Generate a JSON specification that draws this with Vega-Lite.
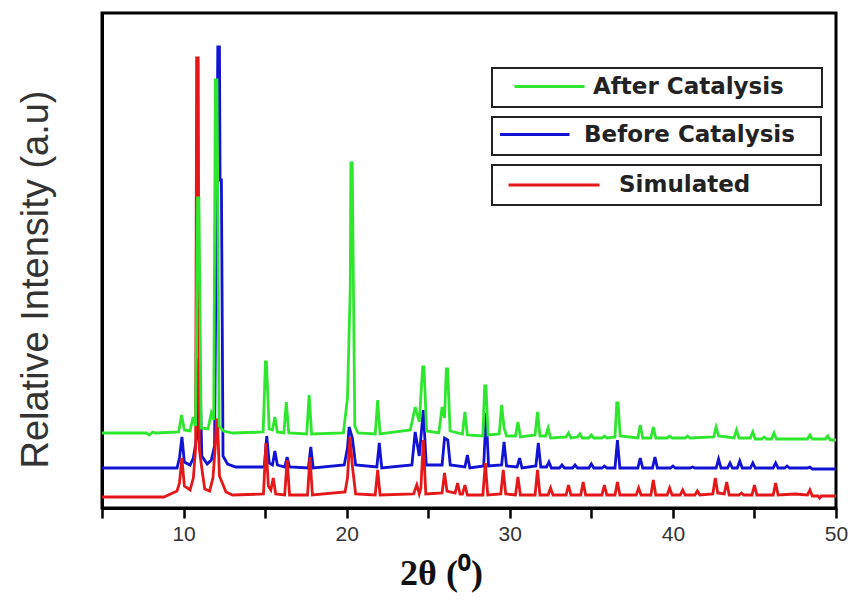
{
  "$schema": "https://vega.github.io/schema/vega-lite/v6.json",
  "width": 734,
  "height": 495,
  "autosize": {"type": "none"},
  "padding": {"left": 102, "top": 13, "right": 18, "bottom": 97},
  "background": "white",
  "config": {
    "view": {"stroke": "#000000", "strokeWidth": 3},
    "font": "Liberation Sans"
  },
  "datasets": {
    "after": [
      {"angle": 5.0, "intensity": 75}, {"angle": 7.7, "intensity": 75}, {"angle": 7.9, "intensity": 73}, {"angle": 8.1, "intensity": 76},
      {"angle": 8.3, "intensity": 75}, {"angle": 9.7, "intensity": 76}, {"angle": 9.88, "intensity": 93}, {"angle": 10.05, "intensity": 78},
      {"angle": 10.4, "intensity": 77}, {"angle": 10.58, "intensity": 91}, {"angle": 10.74, "intensity": 82}, {"angle": 10.86, "intensity": 310},
      {"angle": 10.94, "intensity": 310}, {"angle": 11.08, "intensity": 80}, {"angle": 11.5, "intensity": 79}, {"angle": 11.7, "intensity": 95},
      {"angle": 11.85, "intensity": 88}, {"angle": 11.95, "intensity": 428}, {"angle": 12.05, "intensity": 428}, {"angle": 12.18, "intensity": 82},
      {"angle": 12.45, "intensity": 77}, {"angle": 13.0, "intensity": 75}, {"angle": 14.88, "intensity": 76}, {"angle": 15.02, "intensity": 146},
      {"angle": 15.08, "intensity": 146}, {"angle": 15.25, "intensity": 79}, {"angle": 15.45, "intensity": 78}, {"angle": 15.6, "intensity": 91},
      {"angle": 15.75, "intensity": 76}, {"angle": 16.15, "intensity": 75}, {"angle": 16.3, "intensity": 106}, {"angle": 16.45, "intensity": 75},
      {"angle": 17.55, "intensity": 74}, {"angle": 17.7, "intensity": 113}, {"angle": 17.85, "intensity": 74}, {"angle": 19.8, "intensity": 75},
      {"angle": 20.05, "intensity": 110}, {"angle": 20.22, "intensity": 220}, {"angle": 20.26, "intensity": 345}, {"angle": 20.34, "intensity": 345},
      {"angle": 20.5, "intensity": 82}, {"angle": 20.7, "intensity": 75}, {"angle": 21.75, "intensity": 74}, {"angle": 21.9, "intensity": 108},
      {"angle": 22.05, "intensity": 74}, {"angle": 23.9, "intensity": 78}, {"angle": 24.2, "intensity": 101}, {"angle": 24.45, "intensity": 86},
      {"angle": 24.66, "intensity": 141}, {"angle": 24.74, "intensity": 141}, {"angle": 24.9, "intensity": 77}, {"angle": 25.65, "intensity": 75},
      {"angle": 25.85, "intensity": 101}, {"angle": 26.0, "intensity": 90}, {"angle": 26.11, "intensity": 139}, {"angle": 26.19, "intensity": 139},
      {"angle": 26.34, "intensity": 77}, {"angle": 27.1, "intensity": 74}, {"angle": 27.25, "intensity": 96}, {"angle": 27.4, "intensity": 73},
      {"angle": 28.35, "intensity": 72}, {"angle": 28.46, "intensity": 122}, {"angle": 28.54, "intensity": 122}, {"angle": 28.67, "intensity": 73},
      {"angle": 29.35, "intensity": 74}, {"angle": 29.5, "intensity": 103}, {"angle": 29.65, "intensity": 80}, {"angle": 29.8, "intensity": 72},
      {"angle": 30.35, "intensity": 72}, {"angle": 30.5, "intensity": 86}, {"angle": 30.65, "intensity": 71}, {"angle": 31.55, "intensity": 73},
      {"angle": 31.7, "intensity": 96}, {"angle": 31.85, "intensity": 72}, {"angle": 32.2, "intensity": 72}, {"angle": 32.35, "intensity": 80},
      {"angle": 32.5, "intensity": 70}, {"angle": 33.45, "intensity": 71}, {"angle": 33.6, "intensity": 75}, {"angle": 33.75, "intensity": 70},
      {"angle": 34.15, "intensity": 71}, {"angle": 34.3, "intensity": 74}, {"angle": 34.45, "intensity": 70}, {"angle": 34.85, "intensity": 70},
      {"angle": 35.0, "intensity": 73}, {"angle": 35.15, "intensity": 70}, {"angle": 35.65, "intensity": 70}, {"angle": 35.8, "intensity": 72},
      {"angle": 35.95, "intensity": 70}, {"angle": 36.45, "intensity": 71}, {"angle": 36.56, "intensity": 105}, {"angle": 36.64, "intensity": 105},
      {"angle": 36.77, "intensity": 72}, {"angle": 37.85, "intensity": 70}, {"angle": 38.0, "intensity": 83}, {"angle": 38.15, "intensity": 70},
      {"angle": 38.65, "intensity": 70}, {"angle": 38.8, "intensity": 81}, {"angle": 38.95, "intensity": 70}, {"angle": 39.65, "intensity": 70},
      {"angle": 39.8, "intensity": 72}, {"angle": 39.95, "intensity": 70}, {"angle": 40.75, "intensity": 70}, {"angle": 40.9, "intensity": 72},
      {"angle": 41.05, "intensity": 70}, {"angle": 42.5, "intensity": 71}, {"angle": 42.65, "intensity": 81}, {"angle": 42.8, "intensity": 72},
      {"angle": 43.75, "intensity": 70}, {"angle": 43.9, "intensity": 78}, {"angle": 44.05, "intensity": 70}, {"angle": 44.75, "intensity": 70},
      {"angle": 44.9, "intensity": 76}, {"angle": 45.05, "intensity": 69}, {"angle": 45.45, "intensity": 69}, {"angle": 45.6, "intensity": 71},
      {"angle": 45.75, "intensity": 69}, {"angle": 46.05, "intensity": 69}, {"angle": 46.2, "intensity": 75}, {"angle": 46.35, "intensity": 69},
      {"angle": 48.25, "intensity": 69}, {"angle": 48.4, "intensity": 73}, {"angle": 48.55, "intensity": 69}, {"angle": 49.35, "intensity": 69},
      {"angle": 49.5, "intensity": 72}, {"angle": 49.65, "intensity": 68}, {"angle": 50.0, "intensity": 68}
    ],
    "before": [
      {"angle": 5.0, "intensity": 40}, {"angle": 9.6, "intensity": 40}, {"angle": 9.75, "intensity": 50}, {"angle": 9.9, "intensity": 71},
      {"angle": 10.05, "intensity": 46}, {"angle": 10.4, "intensity": 43}, {"angle": 10.6, "intensity": 50}, {"angle": 10.8, "intensity": 70},
      {"angle": 10.92, "intensity": 148}, {"angle": 10.98, "intensity": 148}, {"angle": 11.12, "intensity": 52}, {"angle": 11.45, "intensity": 44},
      {"angle": 11.7, "intensity": 48}, {"angle": 11.9, "intensity": 62}, {"angle": 12.1, "intensity": 461}, {"angle": 12.2, "intensity": 461},
      {"angle": 12.24, "intensity": 328}, {"angle": 12.32, "intensity": 328}, {"angle": 12.42, "intensity": 52}, {"angle": 12.7, "intensity": 44},
      {"angle": 13.2, "intensity": 41}, {"angle": 14.95, "intensity": 41}, {"angle": 15.1, "intensity": 72}, {"angle": 15.25, "intensity": 45},
      {"angle": 15.45, "intensity": 43}, {"angle": 15.6, "intensity": 57}, {"angle": 15.75, "intensity": 43}, {"angle": 16.2, "intensity": 41},
      {"angle": 16.35, "intensity": 51}, {"angle": 16.5, "intensity": 41}, {"angle": 17.65, "intensity": 40}, {"angle": 17.8, "intensity": 61},
      {"angle": 17.95, "intensity": 40}, {"angle": 19.85, "intensity": 43}, {"angle": 20.05, "intensity": 60}, {"angle": 20.15, "intensity": 81},
      {"angle": 20.35, "intensity": 70}, {"angle": 20.55, "intensity": 43}, {"angle": 21.85, "intensity": 41}, {"angle": 22.0, "intensity": 65},
      {"angle": 22.15, "intensity": 40}, {"angle": 24.0, "intensity": 43}, {"angle": 24.2, "intensity": 76}, {"angle": 24.45, "intensity": 52},
      {"angle": 24.7, "intensity": 98}, {"angle": 24.88, "intensity": 43}, {"angle": 25.85, "intensity": 43}, {"angle": 26.0, "intensity": 70},
      {"angle": 26.2, "intensity": 68}, {"angle": 26.35, "intensity": 43}, {"angle": 27.25, "intensity": 41}, {"angle": 27.4, "intensity": 53},
      {"angle": 27.55, "intensity": 40}, {"angle": 28.4, "intensity": 42}, {"angle": 28.55, "intensity": 95}, {"angle": 28.7, "intensity": 42},
      {"angle": 29.5, "intensity": 43}, {"angle": 29.65, "intensity": 66}, {"angle": 29.8, "intensity": 42}, {"angle": 30.45, "intensity": 41},
      {"angle": 30.6, "intensity": 50}, {"angle": 30.75, "intensity": 40}, {"angle": 31.6, "intensity": 42}, {"angle": 31.75, "intensity": 65},
      {"angle": 31.9, "intensity": 41}, {"angle": 32.25, "intensity": 41}, {"angle": 32.4, "intensity": 46}, {"angle": 32.55, "intensity": 40},
      {"angle": 33.05, "intensity": 40}, {"angle": 33.2, "intensity": 43}, {"angle": 33.35, "intensity": 40}, {"angle": 33.85, "intensity": 40},
      {"angle": 34.0, "intensity": 43}, {"angle": 34.15, "intensity": 40}, {"angle": 34.85, "intensity": 40}, {"angle": 35.0, "intensity": 44},
      {"angle": 35.15, "intensity": 40}, {"angle": 35.65, "intensity": 40}, {"angle": 35.8, "intensity": 42}, {"angle": 35.95, "intensity": 40},
      {"angle": 36.45, "intensity": 40}, {"angle": 36.6, "intensity": 68}, {"angle": 36.75, "intensity": 40}, {"angle": 37.85, "intensity": 40},
      {"angle": 38.0, "intensity": 50}, {"angle": 38.15, "intensity": 40}, {"angle": 38.75, "intensity": 40}, {"angle": 38.9, "intensity": 51},
      {"angle": 39.05, "intensity": 40}, {"angle": 39.85, "intensity": 40}, {"angle": 40.0, "intensity": 42}, {"angle": 40.15, "intensity": 40},
      {"angle": 41.05, "intensity": 40}, {"angle": 41.2, "intensity": 41}, {"angle": 41.35, "intensity": 40}, {"angle": 42.65, "intensity": 40},
      {"angle": 42.8, "intensity": 49}, {"angle": 42.95, "intensity": 40}, {"angle": 43.35, "intensity": 40}, {"angle": 43.5, "intensity": 45},
      {"angle": 43.65, "intensity": 40}, {"angle": 43.95, "intensity": 40}, {"angle": 44.1, "intensity": 47}, {"angle": 44.25, "intensity": 40},
      {"angle": 44.75, "intensity": 40}, {"angle": 44.9, "intensity": 45}, {"angle": 45.05, "intensity": 40}, {"angle": 46.15, "intensity": 40},
      {"angle": 46.3, "intensity": 45}, {"angle": 46.45, "intensity": 40}, {"angle": 46.85, "intensity": 40}, {"angle": 47.0, "intensity": 42},
      {"angle": 47.15, "intensity": 40}, {"angle": 48.25, "intensity": 40}, {"angle": 48.4, "intensity": 41}, {"angle": 48.55, "intensity": 39},
      {"angle": 50.0, "intensity": 39}
    ],
    "simulated": [
      {"angle": 5.0, "intensity": 11}, {"angle": 8.8, "intensity": 11}, {"angle": 9.2, "intensity": 14}, {"angle": 9.6, "intensity": 17},
      {"angle": 9.75, "intensity": 25}, {"angle": 9.9, "intensity": 50}, {"angle": 10.05, "intensity": 22}, {"angle": 10.4, "intensity": 18},
      {"angle": 10.6, "intensity": 30}, {"angle": 10.74, "intensity": 60}, {"angle": 10.8, "intensity": 450}, {"angle": 10.9, "intensity": 450},
      {"angle": 10.96, "intensity": 60}, {"angle": 11.1, "intensity": 42}, {"angle": 11.3, "intensity": 19}, {"angle": 11.6, "intensity": 17},
      {"angle": 11.8, "intensity": 30}, {"angle": 11.94, "intensity": 60}, {"angle": 12.02, "intensity": 88}, {"angle": 12.08, "intensity": 88},
      {"angle": 12.2, "intensity": 32}, {"angle": 12.6, "intensity": 16}, {"angle": 13.0, "intensity": 13}, {"angle": 14.9, "intensity": 14},
      {"angle": 15.05, "intensity": 65}, {"angle": 15.2, "intensity": 22}, {"angle": 15.35, "intensity": 18}, {"angle": 15.5, "intensity": 30},
      {"angle": 15.65, "intensity": 14}, {"angle": 16.2, "intensity": 13}, {"angle": 16.35, "intensity": 48}, {"angle": 16.5, "intensity": 13},
      {"angle": 17.6, "intensity": 13}, {"angle": 17.75, "intensity": 51}, {"angle": 17.9, "intensity": 13}, {"angle": 19.9, "intensity": 16},
      {"angle": 20.05, "intensity": 30}, {"angle": 20.2, "intensity": 71}, {"angle": 20.35, "intensity": 42}, {"angle": 20.55, "intensity": 14},
      {"angle": 21.75, "intensity": 13}, {"angle": 21.9, "intensity": 38}, {"angle": 22.05, "intensity": 13}, {"angle": 24.1, "intensity": 14},
      {"angle": 24.3, "intensity": 23}, {"angle": 24.45, "intensity": 14}, {"angle": 24.55, "intensity": 20}, {"angle": 24.7, "intensity": 68},
      {"angle": 24.85, "intensity": 14}, {"angle": 25.85, "intensity": 15}, {"angle": 26.0, "intensity": 35}, {"angle": 26.15, "intensity": 17},
      {"angle": 26.65, "intensity": 15}, {"angle": 26.8, "intensity": 25}, {"angle": 26.95, "intensity": 14}, {"angle": 27.1, "intensity": 14},
      {"angle": 27.25, "intensity": 23}, {"angle": 27.4, "intensity": 13}, {"angle": 28.35, "intensity": 13}, {"angle": 28.5, "intensity": 45},
      {"angle": 28.65, "intensity": 13}, {"angle": 29.45, "intensity": 14}, {"angle": 29.6, "intensity": 38}, {"angle": 29.75, "intensity": 14},
      {"angle": 30.35, "intensity": 13}, {"angle": 30.5, "intensity": 31}, {"angle": 30.65, "intensity": 13}, {"angle": 31.55, "intensity": 13},
      {"angle": 31.7, "intensity": 38}, {"angle": 31.85, "intensity": 13}, {"angle": 32.35, "intensity": 13}, {"angle": 32.5, "intensity": 20},
      {"angle": 32.65, "intensity": 13}, {"angle": 33.45, "intensity": 13}, {"angle": 33.6, "intensity": 23}, {"angle": 33.75, "intensity": 13},
      {"angle": 34.35, "intensity": 13}, {"angle": 34.5, "intensity": 26}, {"angle": 34.65, "intensity": 13}, {"angle": 35.65, "intensity": 13},
      {"angle": 35.8, "intensity": 23}, {"angle": 35.95, "intensity": 13}, {"angle": 36.45, "intensity": 13}, {"angle": 36.6, "intensity": 26},
      {"angle": 36.75, "intensity": 13}, {"angle": 37.75, "intensity": 13}, {"angle": 37.9, "intensity": 20}, {"angle": 38.05, "intensity": 13},
      {"angle": 38.65, "intensity": 13}, {"angle": 38.8, "intensity": 28}, {"angle": 38.95, "intensity": 13}, {"angle": 39.65, "intensity": 13},
      {"angle": 39.8, "intensity": 20}, {"angle": 39.95, "intensity": 13}, {"angle": 40.45, "intensity": 13}, {"angle": 40.6, "intensity": 18},
      {"angle": 40.75, "intensity": 13}, {"angle": 41.35, "intensity": 13}, {"angle": 41.5, "intensity": 17}, {"angle": 41.65, "intensity": 13},
      {"angle": 42.45, "intensity": 14}, {"angle": 42.6, "intensity": 30}, {"angle": 42.75, "intensity": 15}, {"angle": 43.15, "intensity": 14},
      {"angle": 43.3, "intensity": 26}, {"angle": 43.45, "intensity": 13}, {"angle": 44.05, "intensity": 13}, {"angle": 44.2, "intensity": 15},
      {"angle": 44.35, "intensity": 13}, {"angle": 44.85, "intensity": 13}, {"angle": 45.0, "intensity": 23}, {"angle": 45.15, "intensity": 13},
      {"angle": 46.15, "intensity": 13}, {"angle": 46.3, "intensity": 25}, {"angle": 46.45, "intensity": 13}, {"angle": 47.5, "intensity": 14},
      {"angle": 48.25, "intensity": 13}, {"angle": 48.4, "intensity": 18}, {"angle": 48.55, "intensity": 12}, {"angle": 48.9, "intensity": 12},
      {"angle": 49.0, "intensity": 10}, {"angle": 49.1, "intensity": 12}, {"angle": 50.0, "intensity": 12}
    ]
  },
  "encoding": {
    "x": {
      "field": "angle",
      "type": "quantitative",
      "scale": {"domain": [5, 50], "nice": false, "zero": false},
      "axis": {
        "values": [5, 10, 15, 20, 25, 30, 35, 40, 45, 50],
        "labelExpr": "datum.value % 10 === 0 ? datum.label : ''",
        "grid": false,
        "domainColor": "#000000",
        "domainWidth": 3,
        "tickColor": "#000000",
        "tickWidth": 2.5,
        "tickSize": 10,
        "labelFont": "Liberation Sans",
        "labelFontSize": 21,
        "labelColor": "#333333",
        "labelPadding": 5,
        "labelFlush": false,
        "labelOverlap": false,
        "title": "2θ (⁰)",
        "titleFont": "Liberation Serif",
        "titleFontWeight": "bold",
        "titleFontSize": 36,
        "titleColor": "#111111",
        "titlePadding": 12,
        "titleX": 339,
        "titleAlign": "center"
      }
    },
    "y": {
      "field": "intensity",
      "type": "quantitative",
      "scale": {"domain": [0, 495], "nice": false},
      "axis": {
        "grid": false,
        "ticks": false,
        "labels": false,
        "domainColor": "#000000",
        "domainWidth": 3,
        "title": "Relative Intensity (a.u)",
        "titleFont": "Liberation Sans",
        "titleFontWeight": "normal",
        "titleFontSize": 38,
        "titleColor": "#333333",
        "titleX": -47,
        "titleY": 266
      }
    }
  },
  "layer": [
    {
      "data": {"name": "before"},
      "mark": {"type": "line", "strokeWidth": 2.8},
      "encoding": {
        "color": {
          "datum": "Before Catalysis",
          "scale": {"domain": ["Before Catalysis"], "range": ["#1212d4"]},
          "legend": {
            "orient": "none", "legendX": 390, "legendY": 104,
            "title": " ", "titleOrient": "right", "titleFontSize": 1, "titlePadding": 18,
            "padding": 8, "clipHeight": 19, "labelLimit": 600,
            "strokeColor": "#222222", "fillColor": "#ffffff",
            "symbolType": "stroke", "symbolSize": 5329, "symbolStrokeWidth": 3, "symbolOffset": -5,
            "labelFont": "DejaVu Sans", "labelFontWeight": "bold", "labelFontSize": 23, "labelColor": "#222222", "labelOffset": 13,
            "encode": {"legend": {"update": {"strokeWidth": {"value": 2}}}}
          }
        }
      }
    },
    {
      "data": {"name": "simulated"},
      "mark": {"type": "line", "strokeWidth": 2.8},
      "encoding": {
        "color": {
          "datum": "Simulated",
          "scale": {"domain": ["Simulated"], "range": ["#e41818"]},
          "legend": {
            "orient": "none", "legendX": 390, "legendY": 152,
            "title": " ", "titleOrient": "right", "titleFontSize": 1, "titlePadding": 63,
            "padding": 8, "clipHeight": 24, "labelLimit": 600,
            "strokeColor": "#222222", "fillColor": "#ffffff",
            "symbolType": "stroke", "symbolSize": 8281, "symbolStrokeWidth": 3, "symbolOffset": 7,
            "labelFont": "DejaVu Sans", "labelFontWeight": "bold", "labelFontSize": 23, "labelColor": "#222222", "labelOffset": 18,
            "encode": {"legend": {"update": {"strokeWidth": {"value": 2}}}}
          }
        }
      }
    },
    {
      "data": {"name": "after"},
      "mark": {"type": "line", "strokeWidth": 2.8},
      "encoding": {
        "color": {
          "datum": "After Catalysis",
          "scale": {"domain": ["After Catalysis"], "range": ["#2fe62f"]},
          "legend": {
            "orient": "none", "legendX": 390, "legendY": 55,
            "title": " ", "titleOrient": "right", "titleFontSize": 1, "titlePadding": 30,
            "padding": 8, "clipHeight": 21, "labelLimit": 600,
            "strokeColor": "#222222", "fillColor": "#ffffff",
            "symbolType": "stroke", "symbolSize": 4900, "symbolStrokeWidth": 3, "symbolOffset": 13,
            "labelFont": "DejaVu Sans", "labelFontWeight": "bold", "labelFontSize": 23, "labelColor": "#222222", "labelOffset": 7,
            "encode": {"legend": {"update": {"strokeWidth": {"value": 2}}}}
          }
        }
      }
    }
  ],
  "resolve": {"scale": {"color": "independent"}, "legend": {"color": "independent"}}
}
